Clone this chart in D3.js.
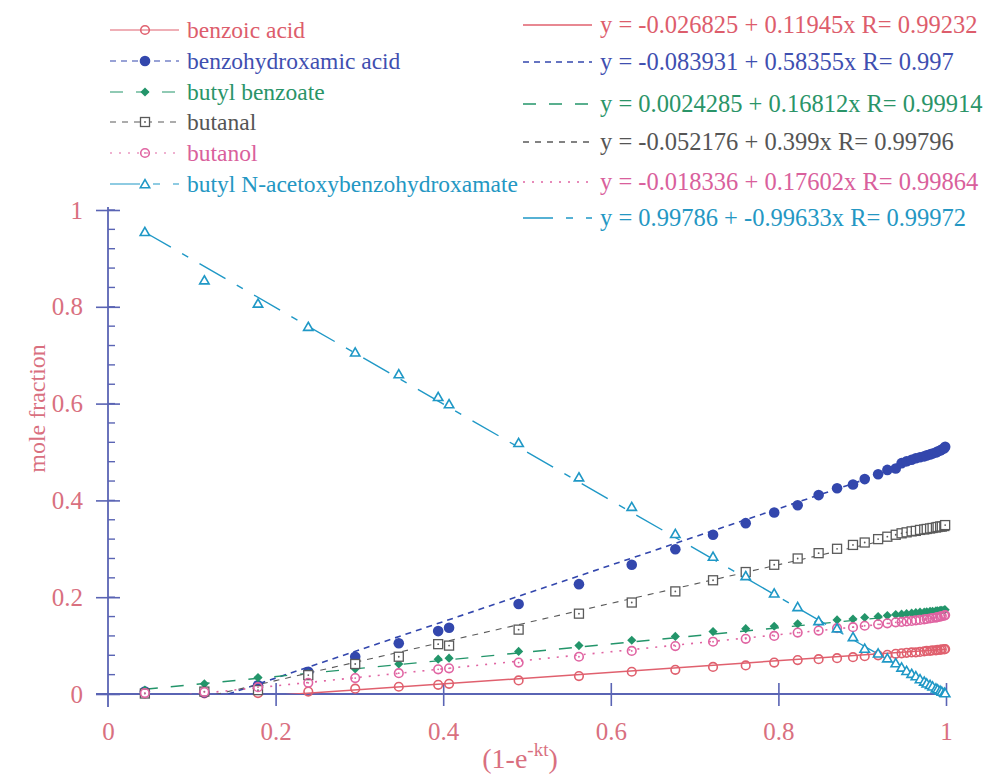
<!DOCTYPE html>
<html lang="en">
<head>
<meta charset="UTF-8">
<title>Mole fraction</title>
<style>
  body { margin: 0; background: #fff; }
  svg text { font-family: "Liberation Serif", "DejaVu Serif", serif; }
</style>
<script src="https://d3js.org/d3.v7.min.js"></script>
</head>
<body>
<svg width="987" height="777"></svg>
<script>
// shared x values (1-e^-kt)
const xVals = [0.044, 0.115, 0.179, 0.239, 0.295, 0.347, 0.394, 0.407, 0.490, 0.562,
  0.625, 0.677, 0.722, 0.761, 0.795, 0.823, 0.848, 0.870, 0.889, 0.903,
  0.919, 0.930, 0.940, 0.947, 0.953, 0.959, 0.964, 0.969, 0.974, 0.977,
  0.981, 0.984, 0.988, 0.990, 0.993, 0.995, 0.998, 0.999];

const benzoicAcid = [0.001, 0.001, 0.002, 0.005, 0.011, 0.015, 0.019, 0.021, 0.028, 0.037,
  0.046, 0.050, 0.056, 0.059, 0.065, 0.070, 0.072, 0.074, 0.076, 0.078,
  0.080, 0.081, 0.083, 0.084, 0.085, 0.086, 0.086, 0.087, 0.088, 0.089,
  0.089, 0.090, 0.090, 0.091, 0.091, 0.092, 0.092, 0.093];
const benzohydroxamic = [0.005, 0.003, 0.018, 0.046, 0.077, 0.105, 0.130, 0.137, 0.186, 0.227,
  0.267, 0.299, 0.329, 0.353, 0.375, 0.390, 0.411, 0.425, 0.433, 0.444,
  0.454, 0.463, 0.466, 0.477, 0.481, 0.484, 0.487, 0.489, 0.491, 0.493,
  0.495, 0.497, 0.499, 0.501, 0.503, 0.505, 0.508, 0.511];
const butylBenzoate = [0.008, 0.021, 0.034, 0.042, 0.052, 0.062, 0.072, 0.074, 0.088, 0.100,
  0.111, 0.119, 0.129, 0.135, 0.140, 0.145, 0.149, 0.153, 0.155, 0.158,
  0.160, 0.162, 0.164, 0.165, 0.166, 0.167, 0.168, 0.169, 0.169, 0.170,
  0.171, 0.171, 0.172, 0.172, 0.173, 0.173, 0.174, 0.174];
const butanal = [0.001, 0.005, 0.008, 0.039, 0.062, 0.077, 0.103, 0.100, 0.133, 0.166,
  0.189, 0.212, 0.235, 0.252, 0.267, 0.280, 0.291, 0.300, 0.308, 0.313,
  0.320, 0.325, 0.329, 0.332, 0.334, 0.336, 0.337, 0.339, 0.340, 0.341,
  0.342, 0.343, 0.344, 0.345, 0.346, 0.346, 0.347, 0.349];
const butanol = [0.002, 0.004, 0.014, 0.023, 0.033, 0.043, 0.051, 0.053, 0.065, 0.077,
  0.089, 0.099, 0.108, 0.114, 0.120, 0.127, 0.131, 0.136, 0.138, 0.141,
  0.144, 0.146, 0.148, 0.149, 0.150, 0.151, 0.152, 0.153, 0.154, 0.155,
  0.156, 0.157, 0.158, 0.159, 0.160, 0.161, 0.162, 0.163];
const acetoxyEster = [0.955, 0.855, 0.807, 0.759, 0.706, 0.661, 0.614, 0.599, 0.519, 0.448,
  0.387, 0.331, 0.284, 0.244, 0.208, 0.180, 0.151, 0.136, 0.118, 0.094,
  0.084, 0.074, 0.064, 0.055, 0.048, 0.042, 0.037, 0.031, 0.026, 0.022,
  0.019, 0.016, 0.012, 0.010, 0.007, 0.005, 0.003, 0.002];

const seriesNames = ["benzoic acid", "benzohydroxamic acid", "butyl benzoate",
  "butanal", "butanol", "butyl N-acetoxybenzohydroxamate"];
const fitIntercepts = [-0.026825, -0.083931, 0.0024285, -0.052176, -0.018336, 0.99786];
const fitSlopes = [0.11945, 0.58355, 0.16812, 0.399, 0.17602, -0.99633];
const fitLabels = [
  "y = -0.026825 + 0.11945x R= 0.99232",
  "y = -0.083931 + 0.58355x R= 0.997",
  "y = 0.0024285 + 0.16812x R= 0.99914",
  "y = -0.052176 + 0.399x R= 0.99796",
  "y = -0.018336 + 0.17602x R= 0.99864",
  "y = 0.99786 + -0.99633x R= 0.99972"
];
const xTicks = [0, 0.2, 0.4, 0.6, 0.8, 1];
const yTicks = [0, 0.2, 0.4, 0.6, 0.8, 1];
const yMinorTicks = d3.range(0, 1.0001, 0.04);

const seriesValues = [benzoicAcid, benzohydroxamic, butylBenzoate, butanal, butanol, acetoxyEster];

const styles = [
  { color: "#e0606e", text: "#dd5d6c", dash: null, width: 1.5, marker: "circleOpen" },
  { color: "#3347ad", text: "#3f4fb0", dash: "6,5", width: 1.6, marker: "circleFilled" },
  { color: "#23956a", text: "#2a9468", dash: "13,13", width: 1.4, marker: "diamond" },
  { color: "#5a5a5a", text: "#555555", dash: "6,6", width: 1.1, marker: "squareDot" },
  { color: "#e064a2", text: "#d9609c", dash: "2,7", width: 1.6, marker: "circleDot" },
  { color: "#1f98c6", text: "#2497c3", dash: "30,13,7,13", width: 1.4, marker: "triangle" }
];

const svg = d3.select("svg");
const x = d3.scaleLinear().domain([0, 1]).range([108, 946]);
const y = d3.scaleLinear().domain([0, 1]).range([694, 210]);
const axisColor = "#5a64b4";
const labelColor = "#d9707f";

function drawMarker(g, kind, color, px, py) {
  if (kind === "circleOpen") {
    g.append("circle").attr("cx", px).attr("cy", py).attr("r", 4.3)
      .attr("fill", "none").attr("stroke", color).attr("stroke-width", 1.6);
  } else if (kind === "circleFilled") {
    g.append("circle").attr("cx", px).attr("cy", py).attr("r", 5.3).attr("fill", color);
  } else if (kind === "diamond") {
    g.append("path").attr("transform", `translate(${px},${py}) rotate(45)`)
      .attr("d", d3.symbol(d3.symbolSquare, 42)()).attr("fill", color);
  } else if (kind === "squareDot") {
    g.append("rect").attr("x", px - 4.5).attr("y", py - 4.5).attr("width", 9).attr("height", 9)
      .attr("fill", "white").attr("stroke", color).attr("stroke-width", 1.3);
    g.append("circle").attr("cx", px).attr("cy", py).attr("r", 0.9).attr("fill", color);
  } else if (kind === "circleDot") {
    g.append("circle").attr("cx", px).attr("cy", py).attr("r", 4.3)
      .attr("fill", "none").attr("stroke", color).attr("stroke-width", 1.6);
    g.append("circle").attr("cx", px).attr("cy", py).attr("r", 0.9).attr("fill", color);
  } else if (kind === "triangle") {
    g.append("path").attr("transform", `translate(${px},${py + 1})`)
      .attr("d", d3.symbol(d3.symbolTriangle, 38)())
      .attr("fill", "white").attr("stroke", color).attr("stroke-width", 1.6);
  }
}

// clip fits to the positive part of the plot
svg.append("clipPath").attr("id", "plotClip").append("rect")
  .attr("x", x(0)).attr("y", y(1) - 20)
  .attr("width", x(1) - x(0) + 2).attr("height", y(0) - y(1) + 20);

// axes
const xAxis = svg.append("g").attr("transform", `translate(0,${y(0)})`)
  .call(d3.axisBottom(x).tickValues(xTicks).tickSize(12).tickSizeOuter(0).tickFormat(d => String(d)));
xAxis.select(".domain").remove();
xAxis.selectAll(".tick line").attr("y1", -11).attr("y2", 12).attr("stroke", axisColor).attr("stroke-width", 1.6);
xAxis.selectAll(".tick text").attr("fill", labelColor).attr("font-size", 25).attr("dy", "1.24em");
xAxis.select(".tick line").remove();
svg.append("line").attr("x1", x(0) - 12).attr("x2", x(1)).attr("y1", y(0)).attr("y2", y(0))
  .attr("stroke", axisColor).attr("stroke-width", 1.8);

const yAxis = svg.append("g").attr("transform", `translate(${x(0)},0)`)
  .call(d3.axisLeft(y).tickValues(yTicks).tickSize(12).tickSizeOuter(0).tickFormat(d => String(d)));
yAxis.select(".domain").remove();
yAxis.selectAll(".tick line").attr("x1", 12).attr("x2", -12).attr("stroke", axisColor).attr("stroke-width", 1.6);
yAxis.selectAll(".tick text").attr("fill", labelColor).attr("font-size", 25).attr("x", -25);
yAxis.selectAll(".minor").data(yMinorTicks).enter().append("line").attr("class", "minor")
  .attr("x1", 0).attr("x2", 7).attr("y1", d => y(d)).attr("y2", d => y(d))
  .attr("stroke", axisColor).attr("stroke-width", 1.4);
svg.append("line").attr("x1", x(0)).attr("x2", x(0)).attr("y1", y(1) - 3).attr("y2", y(0) + 13)
  .attr("stroke", axisColor).attr("stroke-width", 1.8);

// axis titles
svg.append("text").attr("transform", `translate(45,${y(0.59)}) rotate(-90)`)
  .attr("text-anchor", "middle").attr("fill", labelColor).attr("font-size", 24).text("mole fraction");
const xt = svg.append("text").attr("x", x(0.5) - 7).attr("y", 768)
  .attr("text-anchor", "middle").attr("fill", labelColor).attr("font-size", 28);
xt.append("tspan").text("(1-e");
xt.append("tspan").attr("dy", -12).attr("font-size", 19).text("-kt");
xt.append("tspan").attr("dy", 12).text(")");

// fit lines
const fitG = svg.append("g").attr("clip-path", "url(#plotClip)");
seriesNames.forEach((name, i) => {
  const x0 = d3.min(xVals);
  const pts = [x0, 1].map(v => [v, fitIntercepts[i] + fitSlopes[i] * v]);
  fitG.append("path").attr("d", d3.line().x(d => x(d[0])).y(d => y(d[1]))(pts))
    .attr("fill", "none").attr("stroke", styles[i].color)
    .attr("stroke-width", styles[i].width)
    .attr("stroke-dasharray", styles[i].dash);
});

// data markers
seriesValues.forEach((vals, i) => {
  const g = svg.append("g");
  vals.forEach((v, j) => drawMarker(g, styles[i].marker, styles[i].color, x(xVals[j]), y(v)));
});

// left legend
const legL = svg.append("g");
const leftRows = [30, 61, 92, 122, 153, 184];
seriesNames.forEach((name, i) => {
  const ry = leftRows[i];
  legL.append("line").attr("x1", 110).attr("x2", 179).attr("y1", ry).attr("y2", ry)
    .attr("stroke", styles[i].color).attr("stroke-width", 1.2)
    .attr("stroke-dasharray", styles[i].dash);
  drawMarker(legL, styles[i].marker, styles[i].color, 145, ry);
  legL.append("text").attr("x", 187).attr("y", ry).attr("dy", "0.33em")
    .attr("fill", styles[i].text).attr("font-size", 23.5).text(name);
});

// right legend (fits)
const legR = svg.append("g");
const rightRows = [25, 62, 104, 142, 182, 218];
fitLabels.forEach((lab, i) => {
  const ry = rightRows[i];
  legR.append("line").attr("x1", 523).attr("x2", 592).attr("y1", ry).attr("y2", ry)
    .attr("stroke", styles[i].color).attr("stroke-width", 1.3)
    .attr("stroke-dasharray", styles[i].dash);
  legR.append("text").attr("x", 600).attr("y", ry).attr("dy", "0.33em")
    .attr("fill", styles[i].text).attr("font-size", 24.5).text(lab);
});
</script>
</body>
</html>
